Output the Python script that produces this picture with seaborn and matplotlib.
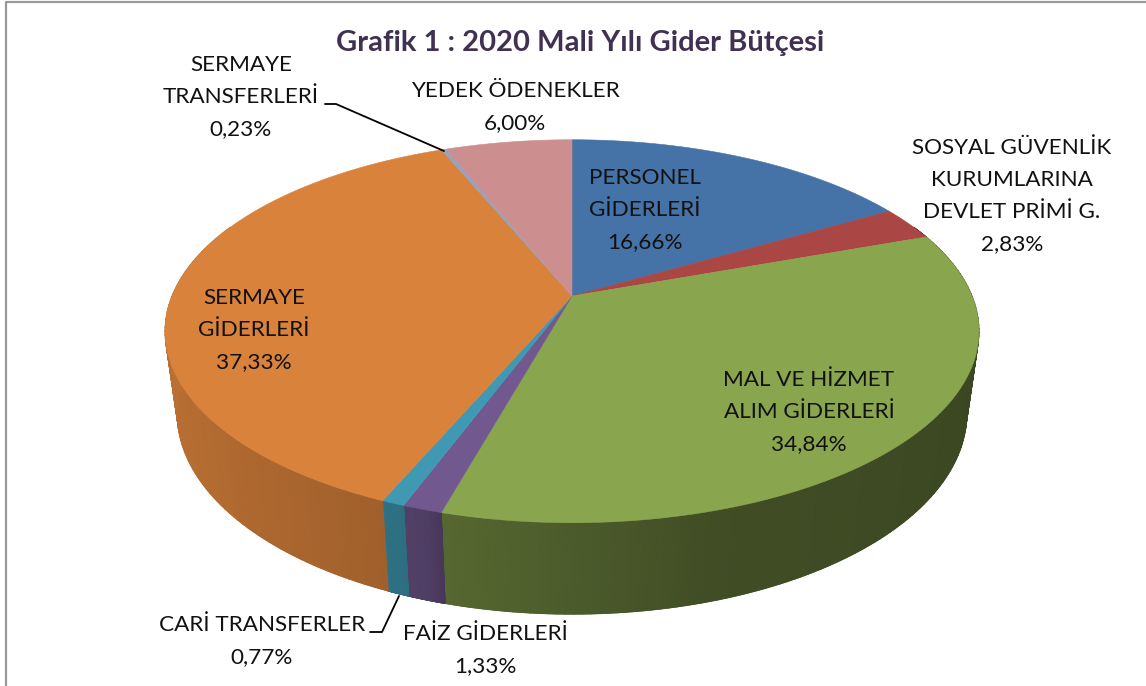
import numpy as np
import pandas as pd
import matplotlib
matplotlib.use("Agg")
import matplotlib.pyplot as plt
import seaborn as sns

categories = ["PERSONEL\nGİDERLERİ", "SOSYAL GÜVENLİK\nKURUMLARINA\nDEVLET PRİMİ G.",
              "MAL VE HİZMET\nALIM GİDERLERİ", "FAİZ GİDERLERİ", "CARİ TRANSFERLER",
              "SERMAYE\nGİDERLERİ", "SERMAYE\nTRANSFERLERİ", "YEDEK ÖDENEKLER"]
shares = [16.66, 2.83, 34.84, 1.33, 0.77, 37.33, 0.23, 6.00]
shown = ["16,66%", "2,83%", "34,84%", "1,33%", "0,77%", "37,33%", "0,23%", "6,00%"]
colors = ["#4572a7", "#aa4643", "#89a54e", "#71588f", "#3f99b3", "#d9823b", "#94a3c4", "#cc8e8e"]
label_x = [645, 1012, 809, 485, 262, 254, 241, 515]
label_y = [210, 196, 412, 650, 641, 330, 97, 107]

sns.set_theme(style="white")
plt.rcParams["font.family"] = ["Lato", "DejaVu Sans"]

df = pd.DataFrame({"name": categories, "share": shares, "shown": shown, "color": colors,
                   "lx": label_x, "ly": label_y})
df["end"] = df["share"].cumsum() / df["share"].sum() * 2 * np.pi
df["start"] = df["end"].shift(1, fill_value=0.0)

# pie geometry in pixels, a circle seen in perspective
cx, cy = 572, 296
rx, ry = 400, 185
persp = 0.184
shrink = 0.97
depth = 80


def top_edge(t):
    u, v = np.sin(t), -np.cos(t)
    d = 1 - persp * v
    return cx + rx * u / d, cy + ry * v / d


def bottom_edge(t):
    u, v = np.sin(t), -np.cos(t)
    d = 1 - persp * v
    return cx + shrink * rx * u / d, cy + (depth + shrink * ry * v) / d


def side_shade(t):
    return np.interp(np.sin(t), [-1, -0.4, -0.3, -0.27, 0.3, 1],
                     [0.86, 0.74, 0.7, 0.63, 0.47, 0.43])


fig, ax = plt.subplots(figsize=(11.46, 6.86), dpi=100)
fig.subplots_adjust(0, 0, 1, 1)
ax.set_xlim(0, 1146)
ax.set_ylim(686, 0)
ax.axis("off")

# side wall, the far end stays hidden under the top face
for _, row in df.iterrows():
    t = np.linspace(row["start"], row["end"], 120)
    t = t[-np.cos(t) > -0.4]
    if len(t) < 2:
        continue
    xt, yt = top_edge(t)
    xb, yb = bottom_edge(t)
    base = np.array(matplotlib.colors.to_rgb(row["color"]))
    rgb = np.outer(side_shade(t), base)
    ax.pcolormesh(np.vstack([xt, xb]), np.vstack([yt, yb]), np.stack([rgb, rgb]),
                  shading="gouraud")
    # soft lower rim
    for i in range(len(t) - 1):
        ax.plot(xb[i:i + 2], yb[i:i + 2], color=rgb[i], lw=1.0, solid_capstyle="round")

# top face
for _, row in df.iterrows():
    t = np.linspace(row["start"], row["end"], 200)
    x, y = top_edge(t)
    ax.fill(np.r_[cx, x], np.r_[cy, y], color=row["color"], lw=0.4, zorder=2.5)

# leader lines
sns.lineplot(x=[325, 336, 444], y=[104, 104, 151], sort=False, color="black", lw=1.3, ax=ax, zorder=4)
sns.lineplot(x=[370, 382, 399], y=[632, 632, 596], sort=False, color="black", lw=1.3, ax=ax, zorder=4)

for _, row in df.iterrows():
    ax.text(row["lx"], row["ly"], row["name"] + "\n" + row["shown"], ha="center", va="center",
            ma="center", fontsize=16.2, linespacing=1.77, color="#111111")

ax.text(580, 43, "Grafik 1 : 2020 Mali Yılı Gider Bütçesi", ha="center", va="center",
        fontsize=21, fontweight="bold", color="#403152")

# chart frame, only left and top are in the crop
ax.plot([5.5, 5.5, 1146], [686, 1.5, 1.5], color="#999999", lw=1.6)

fig.savefig("out.png", dpi=100)
